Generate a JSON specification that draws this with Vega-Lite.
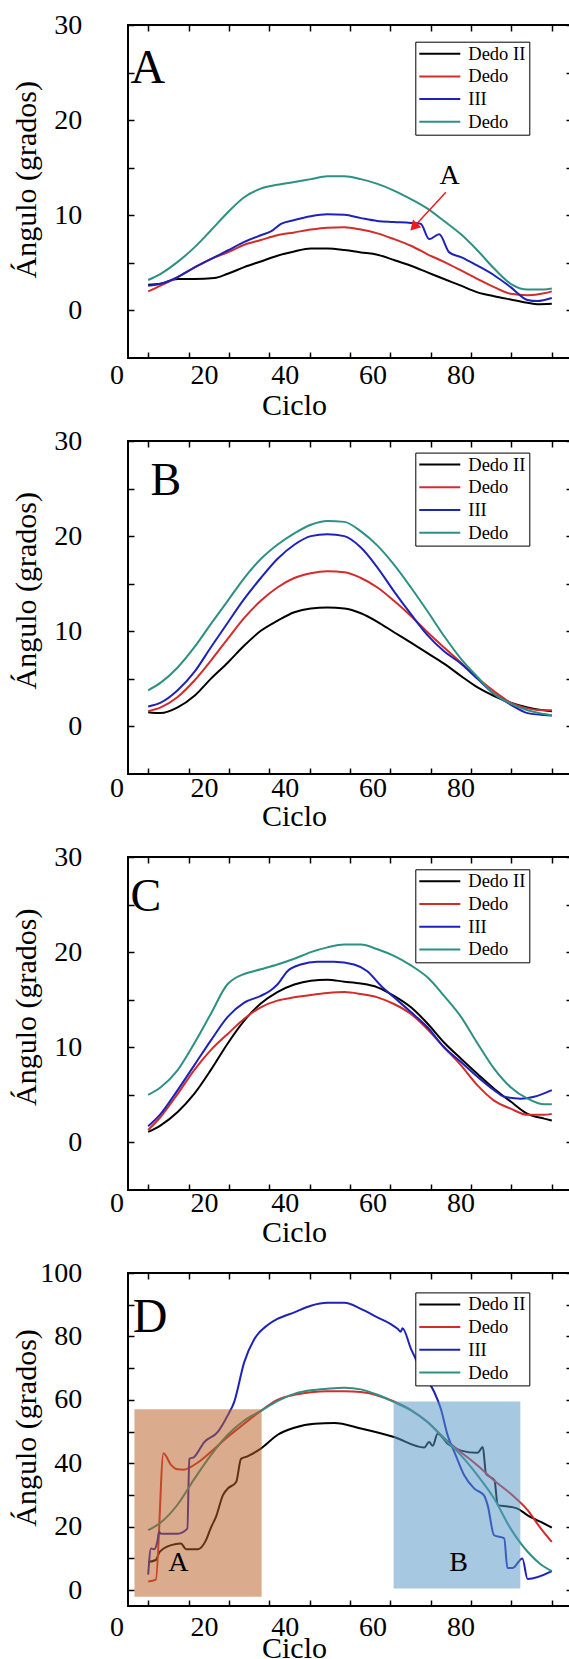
{
"$schema": "https://vega.github.io/schema/vega-lite/v6.json",
"background": "white",
"padding": {"left": 10, "top": 10, "right": 0, "bottom": 0},
"config": {
  "font": "Liberation Serif",
  "view": {"stroke": "black", "strokeWidth": 2},
  "style": {"guide-label": {"font": "Liberation Serif", "fill": "black"}, "guide-title": {"font": "Liberation Serif", "fontWeight": "normal", "fill": "black"}},
  "axis": {"labelFont": "Liberation Serif", "titleFont": "Liberation Serif", "labelColor": "black", "titleColor": "black", "tickColor": "black", "tickWidth": 1.5, "tickSize": -6, "grid": false, "domain": false, "labelFlush": false, "labelOverlap": false, "labelBound": false, "labelFontSize": 28, "titleFontSize": 30, "titleFontWeight": "normal"},
  "legend": {"orient": "none", "strokeColor": "black", "fillColor": "white", "padding": 3, "symbolType": "stroke", "symbolSize": 1681, "symbolStrokeWidth": 2, "clipHeight": 18, "rowPadding": 3.7, "labelFontSize": 18.5, "labelFont": "Liberation Serif", "labelColor": "black", "labelOffset": 7}
},
"datasets": {"curves": [
{"panel":"A","serie":"Dedo II","ciclo":0,"angulo":2.7},{"panel":"A","serie":"Dedo II","ciclo":3.1,"angulo":2.8},{"panel":"A","serie":"Dedo II","ciclo":7.3,"angulo":3.3},{"panel":"A","serie":"Dedo II","ciclo":11.4,"angulo":3.3},{"panel":"A","serie":"Dedo II","ciclo":16.4,"angulo":3.4},{"panel":"A","serie":"Dedo II","ciclo":19.7,"angulo":3.85},{"panel":"A","serie":"Dedo II","ciclo":23.8,"angulo":4.55},{"panel":"A","serie":"Dedo II","ciclo":27.9,"angulo":5.15},{"panel":"A","serie":"Dedo II","ciclo":32,"angulo":5.75},{"panel":"A","serie":"Dedo II","ciclo":36.2,"angulo":6.2},{"panel":"A","serie":"Dedo II","ciclo":40.3,"angulo":6.5},{"panel":"A","serie":"Dedo II","ciclo":44.4,"angulo":6.5},{"panel":"A","serie":"Dedo II","ciclo":48.6,"angulo":6.35},{"panel":"A","serie":"Dedo II","ciclo":52.7,"angulo":6.1},{"panel":"A","serie":"Dedo II","ciclo":56.8,"angulo":5.85},{"panel":"A","serie":"Dedo II","ciclo":60.9,"angulo":5.3},{"panel":"A","serie":"Dedo II","ciclo":65.1,"angulo":4.7},{"panel":"A","serie":"Dedo II","ciclo":69.2,"angulo":4.0},{"panel":"A","serie":"Dedo II","ciclo":73.3,"angulo":3.3},{"panel":"A","serie":"Dedo II","ciclo":77.5,"angulo":2.6},{"panel":"A","serie":"Dedo II","ciclo":81.6,"angulo":1.9},{"panel":"A","serie":"Dedo II","ciclo":85.7,"angulo":1.5},{"panel":"A","serie":"Dedo II","ciclo":89.8,"angulo":1.15},{"panel":"A","serie":"Dedo II","ciclo":94,"angulo":0.8},{"panel":"A","serie":"Dedo II","ciclo":96.4,"angulo":0.65},{"panel":"A","serie":"Dedo II","ciclo":100,"angulo":0.7},
{"panel":"A","serie":"Dedo","ciclo":0,"angulo":2.0},{"panel":"A","serie":"Dedo","ciclo":3.1,"angulo":2.6},{"panel":"A","serie":"Dedo","ciclo":7.3,"angulo":3.5},{"panel":"A","serie":"Dedo","ciclo":11.4,"angulo":4.5},{"panel":"A","serie":"Dedo","ciclo":15.5,"angulo":5.4},{"panel":"A","serie":"Dedo","ciclo":19.7,"angulo":6.1},{"panel":"A","serie":"Dedo","ciclo":23.8,"angulo":6.9},{"panel":"A","serie":"Dedo","ciclo":27.9,"angulo":7.4},{"panel":"A","serie":"Dedo","ciclo":32,"angulo":7.9},{"panel":"A","serie":"Dedo","ciclo":36.2,"angulo":8.2},{"panel":"A","serie":"Dedo","ciclo":40.3,"angulo":8.5},{"panel":"A","serie":"Dedo","ciclo":44.4,"angulo":8.7},{"panel":"A","serie":"Dedo","ciclo":48.6,"angulo":8.75},{"panel":"A","serie":"Dedo","ciclo":52.7,"angulo":8.5},{"panel":"A","serie":"Dedo","ciclo":56.8,"angulo":8.1},{"panel":"A","serie":"Dedo","ciclo":60.9,"angulo":7.5},{"panel":"A","serie":"Dedo","ciclo":65.1,"angulo":6.8},{"panel":"A","serie":"Dedo","ciclo":69.2,"angulo":5.9},{"panel":"A","serie":"Dedo","ciclo":73.3,"angulo":5.1},{"panel":"A","serie":"Dedo","ciclo":77.5,"angulo":4.2},{"panel":"A","serie":"Dedo","ciclo":81.6,"angulo":3.3},{"panel":"A","serie":"Dedo","ciclo":85.7,"angulo":2.45},{"panel":"A","serie":"Dedo","ciclo":89.8,"angulo":1.75},{"panel":"A","serie":"Dedo","ciclo":94,"angulo":1.6},{"panel":"A","serie":"Dedo","ciclo":98.1,"angulo":1.8},{"panel":"A","serie":"Dedo","ciclo":100,"angulo":2.0},
{"panel":"A","serie":"III","ciclo":0,"angulo":2.6},{"panel":"A","serie":"III","ciclo":3.1,"angulo":2.8},{"panel":"A","serie":"III","ciclo":7.3,"angulo":3.5},{"panel":"A","serie":"III","ciclo":11.4,"angulo":4.5},{"panel":"A","serie":"III","ciclo":15.5,"angulo":5.4},{"panel":"A","serie":"III","ciclo":19.7,"angulo":6.3},{"panel":"A","serie":"III","ciclo":23.8,"angulo":7.2},{"panel":"A","serie":"III","ciclo":27.9,"angulo":7.9},{"panel":"A","serie":"III","ciclo":30.4,"angulo":8.3},{"panel":"A","serie":"III","ciclo":32.9,"angulo":9.1},{"panel":"A","serie":"III","ciclo":36.2,"angulo":9.5},{"panel":"A","serie":"III","ciclo":40.3,"angulo":9.9},{"panel":"A","serie":"III","ciclo":44.4,"angulo":10.1},{"panel":"A","serie":"III","ciclo":48.6,"angulo":10.05},{"panel":"A","serie":"III","ciclo":52.7,"angulo":9.7},{"panel":"A","serie":"III","ciclo":56.8,"angulo":9.4},{"panel":"A","serie":"III","ciclo":60.9,"angulo":9.3},{"panel":"A","serie":"III","ciclo":65.1,"angulo":9.2},{"panel":"A","serie":"III","ciclo":67.5,"angulo":9.1},{"panel":"A","serie":"III","ciclo":69.6,"angulo":7.5},{"panel":"A","serie":"III","ciclo":72.1,"angulo":8.0},{"panel":"A","serie":"III","ciclo":74.6,"angulo":6.1},{"panel":"A","serie":"III","ciclo":77.5,"angulo":5.6},{"panel":"A","serie":"III","ciclo":81.6,"angulo":4.7},{"panel":"A","serie":"III","ciclo":85.7,"angulo":3.7},{"panel":"A","serie":"III","ciclo":89.8,"angulo":2.45},{"panel":"A","serie":"III","ciclo":94,"angulo":1.1},{"panel":"A","serie":"III","ciclo":96.4,"angulo":0.98},{"panel":"A","serie":"III","ciclo":100,"angulo":1.3},
{"panel":"A","serie":"Dedo (2)","ciclo":0,"angulo":3.2},{"panel":"A","serie":"Dedo (2)","ciclo":3.1,"angulo":3.85},{"panel":"A","serie":"Dedo (2)","ciclo":7.3,"angulo":5.1},{"panel":"A","serie":"Dedo (2)","ciclo":11.4,"angulo":6.6},{"panel":"A","serie":"Dedo (2)","ciclo":15.5,"angulo":8.4},{"panel":"A","serie":"Dedo (2)","ciclo":19.7,"angulo":10.3},{"panel":"A","serie":"Dedo (2)","ciclo":23.8,"angulo":11.9},{"panel":"A","serie":"Dedo (2)","ciclo":27.9,"angulo":12.8},{"panel":"A","serie":"Dedo (2)","ciclo":32,"angulo":13.2},{"panel":"A","serie":"Dedo (2)","ciclo":36.2,"angulo":13.5},{"panel":"A","serie":"Dedo (2)","ciclo":40.3,"angulo":13.8},{"panel":"A","serie":"Dedo (2)","ciclo":44.4,"angulo":14.1},{"panel":"A","serie":"Dedo (2)","ciclo":48.6,"angulo":14.1},{"panel":"A","serie":"Dedo (2)","ciclo":52.7,"angulo":13.8},{"panel":"A","serie":"Dedo (2)","ciclo":56.8,"angulo":13.3},{"panel":"A","serie":"Dedo (2)","ciclo":60.9,"angulo":12.6},{"panel":"A","serie":"Dedo (2)","ciclo":65.1,"angulo":11.7},{"panel":"A","serie":"Dedo (2)","ciclo":69.2,"angulo":10.7},{"panel":"A","serie":"Dedo (2)","ciclo":73.3,"angulo":9.4},{"panel":"A","serie":"Dedo (2)","ciclo":77.5,"angulo":8.0},{"panel":"A","serie":"Dedo (2)","ciclo":81.6,"angulo":6.3},{"panel":"A","serie":"Dedo (2)","ciclo":85.7,"angulo":4.4},{"panel":"A","serie":"Dedo (2)","ciclo":89.8,"angulo":2.8},{"panel":"A","serie":"Dedo (2)","ciclo":94,"angulo":2.2},{"panel":"A","serie":"Dedo (2)","ciclo":98.1,"angulo":2.2},{"panel":"A","serie":"Dedo (2)","ciclo":100,"angulo":2.3},
{"panel":"B","serie":"Dedo II","ciclo":0,"angulo":1.5},{"panel":"B","serie":"Dedo II","ciclo":3.1,"angulo":1.4},{"panel":"B","serie":"Dedo II","ciclo":7.3,"angulo":2.0},{"panel":"B","serie":"Dedo II","ciclo":11.4,"angulo":3.2},{"panel":"B","serie":"Dedo II","ciclo":15.5,"angulo":5.0},{"panel":"B","serie":"Dedo II","ciclo":19.7,"angulo":6.7},{"panel":"B","serie":"Dedo II","ciclo":23.8,"angulo":8.5},{"panel":"B","serie":"Dedo II","ciclo":27.9,"angulo":10.05},{"panel":"B","serie":"Dedo II","ciclo":32,"angulo":11.1},{"panel":"B","serie":"Dedo II","ciclo":36.2,"angulo":12.0},{"panel":"B","serie":"Dedo II","ciclo":40.3,"angulo":12.4},{"panel":"B","serie":"Dedo II","ciclo":44.4,"angulo":12.5},{"panel":"B","serie":"Dedo II","ciclo":48.6,"angulo":12.4},{"panel":"B","serie":"Dedo II","ciclo":52.7,"angulo":11.9},{"panel":"B","serie":"Dedo II","ciclo":56.8,"angulo":11.0},{"panel":"B","serie":"Dedo II","ciclo":60.9,"angulo":9.9},{"panel":"B","serie":"Dedo II","ciclo":65.1,"angulo":8.8},{"panel":"B","serie":"Dedo II","ciclo":69.2,"angulo":7.7},{"panel":"B","serie":"Dedo II","ciclo":73.3,"angulo":6.6},{"panel":"B","serie":"Dedo II","ciclo":77.5,"angulo":5.3},{"panel":"B","serie":"Dedo II","ciclo":81.6,"angulo":4.1},{"panel":"B","serie":"Dedo II","ciclo":85.7,"angulo":3.2},{"panel":"B","serie":"Dedo II","ciclo":89.8,"angulo":2.5},{"panel":"B","serie":"Dedo II","ciclo":94,"angulo":2.0},{"panel":"B","serie":"Dedo II","ciclo":98.1,"angulo":1.7},{"panel":"B","serie":"Dedo II","ciclo":100,"angulo":1.6},
{"panel":"B","serie":"Dedo","ciclo":0,"angulo":1.6},{"panel":"B","serie":"Dedo","ciclo":3.1,"angulo":2.0},{"panel":"B","serie":"Dedo","ciclo":7.3,"angulo":3.1},{"panel":"B","serie":"Dedo","ciclo":11.4,"angulo":4.8},{"panel":"B","serie":"Dedo","ciclo":15.5,"angulo":6.9},{"panel":"B","serie":"Dedo","ciclo":19.7,"angulo":9.2},{"panel":"B","serie":"Dedo","ciclo":23.8,"angulo":11.4},{"panel":"B","serie":"Dedo","ciclo":27.9,"angulo":13.2},{"panel":"B","serie":"Dedo","ciclo":32,"angulo":14.6},{"panel":"B","serie":"Dedo","ciclo":36.2,"angulo":15.6},{"panel":"B","serie":"Dedo","ciclo":40.3,"angulo":16.1},{"panel":"B","serie":"Dedo","ciclo":44.4,"angulo":16.3},{"panel":"B","serie":"Dedo","ciclo":48.6,"angulo":16.2},{"panel":"B","serie":"Dedo","ciclo":52.7,"angulo":15.6},{"panel":"B","serie":"Dedo","ciclo":56.8,"angulo":14.6},{"panel":"B","serie":"Dedo","ciclo":60.9,"angulo":13.2},{"panel":"B","serie":"Dedo","ciclo":65.1,"angulo":11.6},{"panel":"B","serie":"Dedo","ciclo":69.2,"angulo":9.9},{"panel":"B","serie":"Dedo","ciclo":73.3,"angulo":8.3},{"panel":"B","serie":"Dedo","ciclo":77.5,"angulo":6.7},{"panel":"B","serie":"Dedo","ciclo":81.6,"angulo":5.1},{"panel":"B","serie":"Dedo","ciclo":85.7,"angulo":3.7},{"panel":"B","serie":"Dedo","ciclo":89.8,"angulo":2.5},{"panel":"B","serie":"Dedo","ciclo":94,"angulo":1.9},{"panel":"B","serie":"Dedo","ciclo":98.1,"angulo":1.7},{"panel":"B","serie":"Dedo","ciclo":100,"angulo":1.7},
{"panel":"B","serie":"III","ciclo":0,"angulo":2.1},{"panel":"B","serie":"III","ciclo":3.1,"angulo":2.5},{"panel":"B","serie":"III","ciclo":7.3,"angulo":3.8},{"panel":"B","serie":"III","ciclo":11.4,"angulo":5.7},{"panel":"B","serie":"III","ciclo":15.5,"angulo":8.3},{"panel":"B","serie":"III","ciclo":19.7,"angulo":10.9},{"panel":"B","serie":"III","ciclo":23.8,"angulo":13.4},{"panel":"B","serie":"III","ciclo":27.9,"angulo":15.6},{"panel":"B","serie":"III","ciclo":32,"angulo":17.6},{"panel":"B","serie":"III","ciclo":36.2,"angulo":19.1},{"panel":"B","serie":"III","ciclo":40.3,"angulo":20.0},{"panel":"B","serie":"III","ciclo":44.4,"angulo":20.2},{"panel":"B","serie":"III","ciclo":48.6,"angulo":20.0},{"panel":"B","serie":"III","ciclo":52.7,"angulo":18.8},{"panel":"B","serie":"III","ciclo":56.8,"angulo":16.7},{"panel":"B","serie":"III","ciclo":60.9,"angulo":14.2},{"panel":"B","serie":"III","ciclo":65.1,"angulo":11.8},{"panel":"B","serie":"III","ciclo":69.2,"angulo":9.6},{"panel":"B","serie":"III","ciclo":73.3,"angulo":7.9},{"panel":"B","serie":"III","ciclo":77.5,"angulo":6.6},{"panel":"B","serie":"III","ciclo":81.6,"angulo":5.0},{"panel":"B","serie":"III","ciclo":85.7,"angulo":3.4},{"panel":"B","serie":"III","ciclo":89.8,"angulo":2.3},{"panel":"B","serie":"III","ciclo":94,"angulo":1.4},{"panel":"B","serie":"III","ciclo":98.1,"angulo":1.2},{"panel":"B","serie":"III","ciclo":100,"angulo":1.15},
{"panel":"B","serie":"Dedo (2)","ciclo":0,"angulo":3.8},{"panel":"B","serie":"Dedo (2)","ciclo":3.1,"angulo":4.6},{"panel":"B","serie":"Dedo (2)","ciclo":7.3,"angulo":6.2},{"panel":"B","serie":"Dedo (2)","ciclo":11.4,"angulo":8.3},{"panel":"B","serie":"Dedo (2)","ciclo":15.5,"angulo":10.75},{"panel":"B","serie":"Dedo (2)","ciclo":19.7,"angulo":13.2},{"panel":"B","serie":"Dedo (2)","ciclo":23.8,"angulo":15.6},{"panel":"B","serie":"Dedo (2)","ciclo":27.9,"angulo":17.6},{"panel":"B","serie":"Dedo (2)","ciclo":32,"angulo":19.1},{"panel":"B","serie":"Dedo (2)","ciclo":36.2,"angulo":20.3},{"panel":"B","serie":"Dedo (2)","ciclo":40.3,"angulo":21.2},{"panel":"B","serie":"Dedo (2)","ciclo":44.4,"angulo":21.6},{"panel":"B","serie":"Dedo (2)","ciclo":48.6,"angulo":21.5},{"panel":"B","serie":"Dedo (2)","ciclo":52.7,"angulo":20.5},{"panel":"B","serie":"Dedo (2)","ciclo":56.8,"angulo":19.0},{"panel":"B","serie":"Dedo (2)","ciclo":60.9,"angulo":17.0},{"panel":"B","serie":"Dedo (2)","ciclo":65.1,"angulo":14.6},{"panel":"B","serie":"Dedo (2)","ciclo":69.2,"angulo":12.1},{"panel":"B","serie":"Dedo (2)","ciclo":73.3,"angulo":9.5},{"panel":"B","serie":"Dedo (2)","ciclo":77.5,"angulo":7.1},{"panel":"B","serie":"Dedo (2)","ciclo":81.6,"angulo":5.2},{"panel":"B","serie":"Dedo (2)","ciclo":85.7,"angulo":3.4},{"panel":"B","serie":"Dedo (2)","ciclo":89.8,"angulo":2.4},{"panel":"B","serie":"Dedo (2)","ciclo":94,"angulo":1.7},{"panel":"B","serie":"Dedo (2)","ciclo":98.1,"angulo":1.3},{"panel":"B","serie":"Dedo (2)","ciclo":100,"angulo":1.15},
{"panel":"C","serie":"Dedo II","ciclo":0,"angulo":1.1},{"panel":"C","serie":"Dedo II","ciclo":3.1,"angulo":1.8},{"panel":"C","serie":"Dedo II","ciclo":7.3,"angulo":3.2},{"panel":"C","serie":"Dedo II","ciclo":11.4,"angulo":5.1},{"panel":"C","serie":"Dedo II","ciclo":15.5,"angulo":7.6},{"panel":"C","serie":"Dedo II","ciclo":19.7,"angulo":10.4},{"panel":"C","serie":"Dedo II","ciclo":23.8,"angulo":12.8},{"panel":"C","serie":"Dedo II","ciclo":27.9,"angulo":14.6},{"panel":"C","serie":"Dedo II","ciclo":32,"angulo":15.8},{"panel":"C","serie":"Dedo II","ciclo":36.2,"angulo":16.6},{"panel":"C","serie":"Dedo II","ciclo":40.3,"angulo":17.0},{"panel":"C","serie":"Dedo II","ciclo":44.4,"angulo":17.1},{"panel":"C","serie":"Dedo II","ciclo":48.6,"angulo":16.9},{"panel":"C","serie":"Dedo II","ciclo":52.7,"angulo":16.7},{"panel":"C","serie":"Dedo II","ciclo":56.8,"angulo":16.3},{"panel":"C","serie":"Dedo II","ciclo":60.9,"angulo":15.4},{"panel":"C","serie":"Dedo II","ciclo":65.1,"angulo":14.2},{"panel":"C","serie":"Dedo II","ciclo":69.2,"angulo":12.5},{"panel":"C","serie":"Dedo II","ciclo":73.3,"angulo":10.5},{"panel":"C","serie":"Dedo II","ciclo":77.5,"angulo":8.8},{"panel":"C","serie":"Dedo II","ciclo":81.6,"angulo":7.2},{"panel":"C","serie":"Dedo II","ciclo":85.7,"angulo":5.65},{"panel":"C","serie":"Dedo II","ciclo":89.8,"angulo":4.3},{"panel":"C","serie":"Dedo II","ciclo":94,"angulo":3.0},{"panel":"C","serie":"Dedo II","ciclo":98.1,"angulo":2.5},{"panel":"C","serie":"Dedo II","ciclo":100,"angulo":2.3},
{"panel":"C","serie":"Dedo","ciclo":0,"angulo":1.3},{"panel":"C","serie":"Dedo","ciclo":3.1,"angulo":2.7},{"panel":"C","serie":"Dedo","ciclo":7.3,"angulo":5.1},{"panel":"C","serie":"Dedo","ciclo":11.4,"angulo":7.6},{"panel":"C","serie":"Dedo","ciclo":15.5,"angulo":9.7},{"panel":"C","serie":"Dedo","ciclo":19.7,"angulo":11.4},{"panel":"C","serie":"Dedo","ciclo":23.8,"angulo":13.0},{"panel":"C","serie":"Dedo","ciclo":27.9,"angulo":14.2},{"panel":"C","serie":"Dedo","ciclo":32,"angulo":14.9},{"panel":"C","serie":"Dedo","ciclo":36.2,"angulo":15.25},{"panel":"C","serie":"Dedo","ciclo":40.3,"angulo":15.5},{"panel":"C","serie":"Dedo","ciclo":44.4,"angulo":15.7},{"panel":"C","serie":"Dedo","ciclo":48.6,"angulo":15.8},{"panel":"C","serie":"Dedo","ciclo":52.7,"angulo":15.6},{"panel":"C","serie":"Dedo","ciclo":56.8,"angulo":15.25},{"panel":"C","serie":"Dedo","ciclo":60.9,"angulo":14.55},{"panel":"C","serie":"Dedo","ciclo":65.1,"angulo":13.5},{"panel":"C","serie":"Dedo","ciclo":69.2,"angulo":11.9},{"panel":"C","serie":"Dedo","ciclo":73.3,"angulo":10.0},{"panel":"C","serie":"Dedo","ciclo":77.5,"angulo":8.1},{"panel":"C","serie":"Dedo","ciclo":81.6,"angulo":6.0},{"panel":"C","serie":"Dedo","ciclo":85.7,"angulo":4.4},{"panel":"C","serie":"Dedo","ciclo":89.8,"angulo":3.55},{"panel":"C","serie":"Dedo","ciclo":94,"angulo":2.9},{"panel":"C","serie":"Dedo","ciclo":98.1,"angulo":2.9},{"panel":"C","serie":"Dedo","ciclo":100,"angulo":3.0},
{"panel":"C","serie":"III","ciclo":0,"angulo":1.7},{"panel":"C","serie":"III","ciclo":3.1,"angulo":3.0},{"panel":"C","serie":"III","ciclo":7.3,"angulo":5.5},{"panel":"C","serie":"III","ciclo":11.4,"angulo":8.1},{"panel":"C","serie":"III","ciclo":15.5,"angulo":10.7},{"panel":"C","serie":"III","ciclo":19.7,"angulo":13.2},{"panel":"C","serie":"III","ciclo":23.8,"angulo":14.7},{"panel":"C","serie":"III","ciclo":27.9,"angulo":15.4},{"panel":"C","serie":"III","ciclo":30.4,"angulo":16.0},{"panel":"C","serie":"III","ciclo":32,"angulo":16.6},{"panel":"C","serie":"III","ciclo":34.5,"angulo":18.0},{"panel":"C","serie":"III","ciclo":37.8,"angulo":18.7},{"panel":"C","serie":"III","ciclo":41.9,"angulo":19.0},{"panel":"C","serie":"III","ciclo":46.1,"angulo":19.0},{"panel":"C","serie":"III","ciclo":51,"angulo":18.7},{"panel":"C","serie":"III","ciclo":54.3,"angulo":18.0},{"panel":"C","serie":"III","ciclo":57.6,"angulo":16.5},{"panel":"C","serie":"III","ciclo":60.9,"angulo":15.25},{"panel":"C","serie":"III","ciclo":65.1,"angulo":13.7},{"panel":"C","serie":"III","ciclo":69.2,"angulo":12.1},{"panel":"C","serie":"III","ciclo":73.3,"angulo":10.0},{"panel":"C","serie":"III","ciclo":77.5,"angulo":8.45},{"panel":"C","serie":"III","ciclo":81.6,"angulo":6.9},{"panel":"C","serie":"III","ciclo":85.7,"angulo":5.5},{"panel":"C","serie":"III","ciclo":88.2,"angulo":4.8},{"panel":"C","serie":"III","ciclo":92.3,"angulo":4.6},{"panel":"C","serie":"III","ciclo":95.6,"angulo":4.8},{"panel":"C","serie":"III","ciclo":100,"angulo":5.5},
{"panel":"C","serie":"Dedo (2)","ciclo":0,"angulo":5.0},{"panel":"C","serie":"Dedo (2)","ciclo":3.1,"angulo":5.8},{"panel":"C","serie":"Dedo (2)","ciclo":7.3,"angulo":7.6},{"panel":"C","serie":"Dedo (2)","ciclo":11.4,"angulo":10.4},{"panel":"C","serie":"Dedo (2)","ciclo":15.5,"angulo":13.5},{"panel":"C","serie":"Dedo (2)","ciclo":19.7,"angulo":16.65},{"panel":"C","serie":"Dedo (2)","ciclo":21.3,"angulo":17.2},{"panel":"C","serie":"Dedo (2)","ciclo":23.8,"angulo":17.7},{"panel":"C","serie":"Dedo (2)","ciclo":27.9,"angulo":18.2},{"panel":"C","serie":"Dedo (2)","ciclo":32,"angulo":18.7},{"panel":"C","serie":"Dedo (2)","ciclo":36.2,"angulo":19.3},{"panel":"C","serie":"Dedo (2)","ciclo":40.3,"angulo":20.0},{"panel":"C","serie":"Dedo (2)","ciclo":44.4,"angulo":20.5},{"panel":"C","serie":"Dedo (2)","ciclo":48.6,"angulo":20.8},{"panel":"C","serie":"Dedo (2)","ciclo":52.7,"angulo":20.8},{"panel":"C","serie":"Dedo (2)","ciclo":56.8,"angulo":20.3},{"panel":"C","serie":"Dedo (2)","ciclo":60.9,"angulo":19.6},{"panel":"C","serie":"Dedo (2)","ciclo":65.1,"angulo":18.6},{"panel":"C","serie":"Dedo (2)","ciclo":69.2,"angulo":17.35},{"panel":"C","serie":"Dedo (2)","ciclo":73.3,"angulo":15.4},{"panel":"C","serie":"Dedo (2)","ciclo":77.5,"angulo":13.2},{"panel":"C","serie":"Dedo (2)","ciclo":81.6,"angulo":10.4},{"panel":"C","serie":"Dedo (2)","ciclo":85.7,"angulo":7.75},{"panel":"C","serie":"Dedo (2)","ciclo":89.8,"angulo":5.8},{"panel":"C","serie":"Dedo (2)","ciclo":94,"angulo":4.6},{"panel":"C","serie":"Dedo (2)","ciclo":98.1,"angulo":4.0},{"panel":"C","serie":"Dedo (2)","ciclo":100,"angulo":4.0},
{"panel":"D","serie":"Dedo II","ciclo":0,"angulo":8.9},{"panel":"D","serie":"Dedo II","ciclo":1.9,"angulo":9.5},{"panel":"D","serie":"Dedo II","ciclo":2.8,"angulo":12.0},{"panel":"D","serie":"Dedo II","ciclo":5.7,"angulo":14.2},{"panel":"D","serie":"Dedo II","ciclo":8.1,"angulo":14.7},{"panel":"D","serie":"Dedo II","ciclo":9.4,"angulo":12.9},{"panel":"D","serie":"Dedo II","ciclo":12.3,"angulo":12.9},{"panel":"D","serie":"Dedo II","ciclo":14.3,"angulo":15.7},{"panel":"D","serie":"Dedo II","ciclo":15.6,"angulo":19.9},{"panel":"D","serie":"Dedo II","ciclo":16.8,"angulo":23.1},{"panel":"D","serie":"Dedo II","ciclo":18.5,"angulo":29.9},{"panel":"D","serie":"Dedo II","ciclo":19.7,"angulo":32.0},{"panel":"D","serie":"Dedo II","ciclo":21.8,"angulo":34.1},{"panel":"D","serie":"Dedo II","ciclo":23.0,"angulo":41.4},{"panel":"D","serie":"Dedo II","ciclo":24.6,"angulo":42.2},{"panel":"D","serie":"Dedo II","ciclo":27.9,"angulo":44.6},{"panel":"D","serie":"Dedo II","ciclo":32.1,"angulo":49.0},{"panel":"D","serie":"Dedo II","ciclo":36.2,"angulo":51.2},{"panel":"D","serie":"Dedo II","ciclo":41.2,"angulo":52.5},{"panel":"D","serie":"Dedo II","ciclo":46.1,"angulo":52.7},{"panel":"D","serie":"Dedo II","ciclo":52.7,"angulo":51.0},{"panel":"D","serie":"Dedo II","ciclo":60.9,"angulo":48.3},{"panel":"D","serie":"Dedo II","ciclo":68.4,"angulo":45.0},{"panel":"D","serie":"Dedo II","ciclo":69.6,"angulo":46.7},{"panel":"D","serie":"Dedo II","ciclo":70.5,"angulo":45.5},{"panel":"D","serie":"Dedo II","ciclo":71.7,"angulo":49.3},{"panel":"D","serie":"Dedo II","ciclo":74.2,"angulo":46.2},{"panel":"D","serie":"Dedo II","ciclo":77.5,"angulo":44.0},{"panel":"D","serie":"Dedo II","ciclo":81.6,"angulo":43.3},{"panel":"D","serie":"Dedo II","ciclo":82.9,"angulo":45.1},{"panel":"D","serie":"Dedo II","ciclo":83.7,"angulo":36.7},{"panel":"D","serie":"Dedo II","ciclo":85.8,"angulo":34.6},{"panel":"D","serie":"Dedo II","ciclo":86.6,"angulo":26.8},{"panel":"D","serie":"Dedo II","ciclo":89.1,"angulo":26.4},{"panel":"D","serie":"Dedo II","ciclo":91.5,"angulo":25.7},{"panel":"D","serie":"Dedo II","ciclo":94,"angulo":23.6},{"panel":"D","serie":"Dedo II","ciclo":97.3,"angulo":21.5},{"panel":"D","serie":"Dedo II","ciclo":100,"angulo":19.7},
{"panel":"D","serie":"Dedo","ciclo":0,"angulo":2.7},{"panel":"D","serie":"Dedo","ciclo":1.9,"angulo":3.3},{"panel":"D","serie":"Dedo","ciclo":3.8,"angulo":43.2},{"panel":"D","serie":"Dedo","ciclo":5.6,"angulo":39.6},{"panel":"D","serie":"Dedo","ciclo":7.3,"angulo":38.1},{"panel":"D","serie":"Dedo","ciclo":8.9,"angulo":38.0},{"panel":"D","serie":"Dedo","ciclo":10.6,"angulo":38.9},{"panel":"D","serie":"Dedo","ciclo":13.0,"angulo":40.9},{"panel":"D","serie":"Dedo","ciclo":16.4,"angulo":44.6},{"panel":"D","serie":"Dedo","ciclo":19.7,"angulo":48.3},{"panel":"D","serie":"Dedo","ciclo":23.8,"angulo":52.5},{"panel":"D","serie":"Dedo","ciclo":27.9,"angulo":56.5},{"panel":"D","serie":"Dedo","ciclo":32,"angulo":60.0},{"panel":"D","serie":"Dedo","ciclo":36.2,"angulo":61.6},{"panel":"D","serie":"Dedo","ciclo":40.3,"angulo":62.4},{"panel":"D","serie":"Dedo","ciclo":44.4,"angulo":62.7},{"panel":"D","serie":"Dedo","ciclo":48.6,"angulo":62.7},{"panel":"D","serie":"Dedo","ciclo":52.7,"angulo":62.5},{"panel":"D","serie":"Dedo","ciclo":56.8,"angulo":61.4},{"panel":"D","serie":"Dedo","ciclo":60.9,"angulo":59.5},{"panel":"D","serie":"Dedo","ciclo":65.1,"angulo":56.8},{"panel":"D","serie":"Dedo","ciclo":69.2,"angulo":53.0},{"panel":"D","serie":"Dedo","ciclo":73.3,"angulo":48.0},{"panel":"D","serie":"Dedo","ciclo":77.5,"angulo":43.5},{"panel":"D","serie":"Dedo","ciclo":81.6,"angulo":39.3},{"panel":"D","serie":"Dedo","ciclo":85.7,"angulo":34.6},{"panel":"D","serie":"Dedo","ciclo":89.8,"angulo":30.4},{"panel":"D","serie":"Dedo","ciclo":94,"angulo":25.2},{"panel":"D","serie":"Dedo","ciclo":97.3,"angulo":19.4},{"panel":"D","serie":"Dedo","ciclo":100,"angulo":15.2},
{"panel":"D","serie":"III","ciclo":0,"angulo":4.9},{"panel":"D","serie":"III","ciclo":0.7,"angulo":13.1},{"panel":"D","serie":"III","ciclo":1.5,"angulo":12.9},{"panel":"D","serie":"III","ciclo":2.3,"angulo":15.5},{"panel":"D","serie":"III","ciclo":2.7,"angulo":18.4},{"panel":"D","serie":"III","ciclo":3.1,"angulo":17.8},{"panel":"D","serie":"III","ciclo":7.3,"angulo":17.8},{"panel":"D","serie":"III","ciclo":9.7,"angulo":19.4},{"panel":"D","serie":"III","ciclo":10.2,"angulo":41.4},{"panel":"D","serie":"III","ciclo":11.4,"angulo":42.0},{"panel":"D","serie":"III","ciclo":13.9,"angulo":46.7},{"panel":"D","serie":"III","ciclo":17.2,"angulo":49.8},{"panel":"D","serie":"III","ciclo":19.7,"angulo":55.1},{"panel":"D","serie":"III","ciclo":21.3,"angulo":59.3},{"panel":"D","serie":"III","ciclo":23.8,"angulo":71.9},{"panel":"D","serie":"III","ciclo":26.3,"angulo":79.2},{"panel":"D","serie":"III","ciclo":29.6,"angulo":83.6},{"panel":"D","serie":"III","ciclo":32,"angulo":85.5},{"panel":"D","serie":"III","ciclo":36.2,"angulo":87.6},{"panel":"D","serie":"III","ciclo":40.3,"angulo":89.7},{"panel":"D","serie":"III","ciclo":44.4,"angulo":90.6},{"panel":"D","serie":"III","ciclo":48.6,"angulo":90.6},{"panel":"D","serie":"III","ciclo":52.7,"angulo":88.7},{"panel":"D","serie":"III","ciclo":56.8,"angulo":86.0},{"panel":"D","serie":"III","ciclo":60.1,"angulo":83.9},{"panel":"D","serie":"III","ciclo":61.8,"angulo":82.4},{"panel":"D","serie":"III","ciclo":62.6,"angulo":81.5},{"panel":"D","serie":"III","ciclo":63.0,"angulo":82.6},{"panel":"D","serie":"III","ciclo":65.1,"angulo":76.1},{"panel":"D","serie":"III","ciclo":68.4,"angulo":67.7},{"panel":"D","serie":"III","ciclo":70.9,"angulo":62.4},{"panel":"D","serie":"III","ciclo":72.5,"angulo":57.2},{"panel":"D","serie":"III","ciclo":74.2,"angulo":48.8},{"panel":"D","serie":"III","ciclo":76.2,"angulo":42.5},{"panel":"D","serie":"III","ciclo":78.3,"angulo":36.2},{"panel":"D","serie":"III","ciclo":80.8,"angulo":32.0},{"panel":"D","serie":"III","ciclo":83.2,"angulo":29.9},{"panel":"D","serie":"III","ciclo":84.1,"angulo":26.8},{"panel":"D","serie":"III","ciclo":85.7,"angulo":17.3},{"panel":"D","serie":"III","ciclo":88.2,"angulo":16.3},{"panel":"D","serie":"III","ciclo":89,"angulo":7.0},{"panel":"D","serie":"III","ciclo":90.3,"angulo":7.0},{"panel":"D","serie":"III","ciclo":92.7,"angulo":10.0},{"panel":"D","serie":"III","ciclo":94,"angulo":3.5},{"panel":"D","serie":"III","ciclo":100,"angulo":6.0},
{"panel":"D","serie":"Dedo (2)","ciclo":0,"angulo":18.9},{"panel":"D","serie":"Dedo (2)","ciclo":3.1,"angulo":21.3},{"panel":"D","serie":"Dedo (2)","ciclo":7.3,"angulo":27.0},{"panel":"D","serie":"Dedo (2)","ciclo":11.4,"angulo":35.0},{"panel":"D","serie":"Dedo (2)","ciclo":15.5,"angulo":42.5},{"panel":"D","serie":"Dedo (2)","ciclo":19.7,"angulo":49.0},{"panel":"D","serie":"Dedo (2)","ciclo":23.8,"angulo":53.5},{"panel":"D","serie":"Dedo (2)","ciclo":27.9,"angulo":56.5},{"panel":"D","serie":"Dedo (2)","ciclo":32,"angulo":59.6},{"panel":"D","serie":"Dedo (2)","ciclo":36.2,"angulo":61.9},{"panel":"D","serie":"Dedo (2)","ciclo":40.3,"angulo":63.0},{"panel":"D","serie":"Dedo (2)","ciclo":44.4,"angulo":63.5},{"panel":"D","serie":"Dedo (2)","ciclo":48.6,"angulo":63.8},{"panel":"D","serie":"Dedo (2)","ciclo":52.7,"angulo":63.3},{"panel":"D","serie":"Dedo (2)","ciclo":56.8,"angulo":61.6},{"panel":"D","serie":"Dedo (2)","ciclo":60.9,"angulo":59.3},{"panel":"D","serie":"Dedo (2)","ciclo":65.1,"angulo":56.7},{"panel":"D","serie":"Dedo (2)","ciclo":69.2,"angulo":53.0},{"panel":"D","serie":"Dedo (2)","ciclo":73.3,"angulo":47.7},{"panel":"D","serie":"Dedo (2)","ciclo":77.5,"angulo":42.5},{"panel":"D","serie":"Dedo (2)","ciclo":81.6,"angulo":36.2},{"panel":"D","serie":"Dedo (2)","ciclo":85.7,"angulo":28.9},{"panel":"D","serie":"Dedo (2)","ciclo":89.8,"angulo":19.4},{"panel":"D","serie":"Dedo (2)","ciclo":94,"angulo":12.1},{"panel":"D","serie":"Dedo (2)","ciclo":97.3,"angulo":8.1},{"panel":"D","serie":"Dedo (2)","ciclo":100,"angulo":6.0}
]},
"spacing": 83,
"bounds": "flush",
"resolve": {"scale": {"color": "independent"}, "legend": {"color": "independent"}},
"vconcat": [
{
  "width": 444, "height": 333,
  "resolve": {"axis": {"x": "independent", "y": "independent"}},
  "layer": [
    {
      "data": {"name": "curves"},
      "transform": [{"filter": "datum.panel == 'A'"}],
      "mark": {"type": "line", "strokeWidth": 2, "interpolate": "monotone"},
      "encoding": {
        "x": {"field": "ciclo", "type": "quantitative", "scale": {"domain": [-5, 105], "nice": false, "zero": false},
          "axis": {"orient": "bottom", "values": [0,10,20,30,40,50,60,70,80,90,100], "labelExpr": "datum.value % 20 == 0 && datum.value < 100 ? datum.label : ''",
            "labelOffset": {"condition": [{"test": "datum.value == 0", "value": -31.7}, {"test": "datum.value == 20", "value": -24.8}, {"test": "datum.value == 40", "value": -25}, {"test": "datum.value == 60", "value": -17.8}], "value": -10.5},
            "labelFont": "Liberation Serif", "titleFont": "Liberation Serif", "titleFontWeight": "normal",
            "labelPadding": 9.6, "title": "Ciclo", "titleX": 166, "titleY": 32.6}},
        "y": {"field": "angulo", "type": "quantitative", "scale": {"domain": [-5, 30], "nice": false, "zero": false},
          "axis": {"orient": "left", "values": [0,5,10,15,20,25,30], "labelExpr": "datum.value % 10 == 0 ? datum.label : ''", "labelFont": "Liberation Serif", "titleFont": "Liberation Serif", "titleFontWeight": "normal", "labelPadding": 52.3, "title": "Ángulo (grados)", "titleX": -86.3, "titleY": 154.3}},
        "color": {"field": "serie", "type": "nominal", "scale": {"domain": ["Dedo II", "Dedo", "III", "Dedo (2)"], "range": ["#000000", "#d42b2b", "#1d22b8", "#2d9084"]},
          "legend": {"title": null, "legendX": 287.3, "legendY": 16.7, "labelExpr": "replace(datum.label, ' (2)', '')"}}
      }
    },
    {
      "data": {"values": [{"anotacion": "flecha"}]},
      "mark": {"type": "rule", "color": "#f01c1c", "strokeWidth": 1.5},
      "encoding": {
        "x": {"datum": 73.75, "type": "quantitative", "axis": null},
        "y": {"datum": 12.41, "type": "quantitative", "axis": null},
        "x2": {"datum": 65.8}, "y2": {"datum": 8.77}
      }
    },
    {
      "data": {"values": [{"anotacion": "punta"}]},
      "mark": {"type": "point", "shape": "triangle-up", "filled": true, "size": 130, "angle": 223, "color": "#f01c1c", "opacity": 1},
      "encoding": {
        "x": {"datum": 65.8, "type": "quantitative", "axis": null},
        "y": {"datum": 8.77, "type": "quantitative", "axis": null}
      }
    },
    {
      "data": {"values": [{"etiqueta": "A"}]},
      "mark": {"type": "text", "font": "Liberation Serif", "fontSize": 28, "align": "center", "baseline": "alphabetic", "color": "black"},
      "encoding": {
        "x": {"datum": 74.7, "type": "quantitative", "axis": null},
        "y": {"datum": 13.3, "type": "quantitative", "axis": null},
        "text": {"field": "etiqueta"}
      }
    },
    {
      "data": {"values": [{"etiqueta": "A"}]},
      "mark": {"type": "text", "font": "Liberation Serif", "fontSize": 48, "align": "left", "baseline": "alphabetic", "color": "black"},
      "encoding": {
        "x": {"datum": -4.4, "type": "quantitative", "axis": {"orient": "top", "values": [0,10,20,30,40,50,60,70,80,90,100], "labels": false, "title": null}},
        "y": {"datum": 23.9, "type": "quantitative", "axis": {"orient": "right", "values": [0,5,10,15,20,25,30], "labels": false, "title": null}},
        "text": {"field": "etiqueta"}
      }
    }
  ]
},
{
  "width": 444, "height": 333,
  "resolve": {"axis": {"x": "independent", "y": "independent"}},
  "layer": [
    {
      "data": {"name": "curves"},
      "transform": [{"filter": "datum.panel == 'B'"}],
      "mark": {"type": "line", "strokeWidth": 2, "interpolate": "monotone"},
      "encoding": {
        "x": {"field": "ciclo", "type": "quantitative", "scale": {"domain": [-5, 105], "nice": false, "zero": false},
          "axis": {"orient": "bottom", "values": [0,10,20,30,40,50,60,70,80,90,100], "labelExpr": "datum.value % 20 == 0 && datum.value < 100 ? datum.label : ''",
            "labelOffset": {"condition": [{"test": "datum.value == 0", "value": -31.7}, {"test": "datum.value == 20", "value": -24.8}, {"test": "datum.value == 40", "value": -25}, {"test": "datum.value == 60", "value": -17.8}], "value": -10.5},
            "labelFont": "Liberation Serif", "titleFont": "Liberation Serif", "titleFontWeight": "normal",
            "labelPadding": 6.4, "title": "Ciclo", "titleX": 166, "titleY": 27}},
        "y": {"field": "angulo", "type": "quantitative", "scale": {"domain": [-5, 30], "nice": false, "zero": false},
          "axis": {"orient": "left", "values": [0,5,10,15,20,25,30], "labelExpr": "datum.value % 10 == 0 ? datum.label : ''", "labelFont": "Liberation Serif", "titleFont": "Liberation Serif", "titleFontWeight": "normal", "labelPadding": 52.3, "title": "Ángulo (grados)", "titleX": -86.3, "titleY": 149.3}},
        "color": {"field": "serie", "type": "nominal", "scale": {"domain": ["Dedo II", "Dedo", "III", "Dedo (2)"], "range": ["#000000", "#d42b2b", "#1d22b8", "#2d9084"]},
          "legend": {"title": null, "legendX": 287.3, "legendY": 11.6, "labelExpr": "replace(datum.label, ' (2)', '')"}}
      }
    },
    {
      "data": {"values": [{"etiqueta": "B"}]},
      "mark": {"type": "text", "font": "Liberation Serif", "fontSize": 46, "align": "left", "baseline": "alphabetic", "color": "black"},
      "encoding": {
        "x": {"datum": 0.6, "type": "quantitative", "axis": {"orient": "top", "values": [0,10,20,30,40,50,60,70,80,90,100], "labels": false, "title": null}},
        "y": {"datum": 24.3, "type": "quantitative", "axis": {"orient": "right", "values": [0,5,10,15,20,25,30], "labels": false, "title": null}},
        "text": {"field": "etiqueta"}
      }
    }
  ]
},
{
  "width": 444, "height": 333,
  "resolve": {"axis": {"x": "independent", "y": "independent"}},
  "layer": [
    {
      "data": {"name": "curves"},
      "transform": [{"filter": "datum.panel == 'C'"}],
      "mark": {"type": "line", "strokeWidth": 2, "interpolate": "monotone"},
      "encoding": {
        "x": {"field": "ciclo", "type": "quantitative", "scale": {"domain": [-5, 105], "nice": false, "zero": false},
          "axis": {"orient": "bottom", "values": [0,10,20,30,40,50,60,70,80,90,100], "labelExpr": "datum.value % 20 == 0 && datum.value < 100 ? datum.label : ''",
            "labelOffset": {"condition": [{"test": "datum.value == 0", "value": -31.7}, {"test": "datum.value == 20", "value": -24.8}, {"test": "datum.value == 40", "value": -25}, {"test": "datum.value == 60", "value": -17.8}], "value": -10.5},
            "labelFont": "Liberation Serif", "titleFont": "Liberation Serif", "titleFontWeight": "normal",
            "labelPadding": 5.4, "title": "Ciclo", "titleX": 166, "titleY": 27.5}},
        "y": {"field": "angulo", "type": "quantitative", "scale": {"domain": [-5, 30], "nice": false, "zero": false},
          "axis": {"orient": "left", "values": [0,5,10,15,20,25,30], "labelExpr": "datum.value % 10 == 0 ? datum.label : ''", "labelFont": "Liberation Serif", "titleFont": "Liberation Serif", "titleFontWeight": "normal", "labelPadding": 52.3, "title": "Ángulo (grados)", "titleX": -86.3, "titleY": 149.8}},
        "color": {"field": "serie", "type": "nominal", "scale": {"domain": ["Dedo II", "Dedo", "III", "Dedo (2)"], "range": ["#000000", "#d42b2b", "#1d22b8", "#2d9084"]},
          "legend": {"title": null, "legendX": 287.3, "legendY": 12.3, "labelExpr": "replace(datum.label, ' (2)', '')"}}
      }
    },
    {
      "data": {"values": [{"etiqueta": "C"}]},
      "mark": {"type": "text", "font": "Liberation Serif", "fontSize": 46, "align": "left", "baseline": "alphabetic", "color": "black"},
      "encoding": {
        "x": {"datum": -4.4, "type": "quantitative", "axis": {"orient": "top", "values": [0,10,20,30,40,50,60,70,80,90,100], "labels": false, "title": null}},
        "y": {"datum": 24.3, "type": "quantitative", "axis": {"orient": "right", "values": [0,5,10,15,20,25,30], "labels": false, "title": null}},
        "text": {"field": "etiqueta"}
      }
    }
  ]
},
{
  "width": 444, "height": 333,
  "resolve": {"axis": {"x": "independent", "y": "independent"}},
  "layer": [
    {
      "data": {"name": "curves"},
      "transform": [{"filter": "datum.panel == 'D'"}],
      "mark": {"type": "line", "strokeWidth": 2, "interpolate": "monotone"},
      "encoding": {
        "x": {"field": "ciclo", "type": "quantitative", "scale": {"domain": [-5, 105], "nice": false, "zero": false},
          "axis": {"orient": "bottom", "values": [0,10,20,30,40,50,60,70,80,90,100], "labelExpr": "datum.value % 20 == 0 && datum.value < 100 ? datum.label : ''",
            "labelOffset": {"condition": [{"test": "datum.value == 0", "value": -31.7}, {"test": "datum.value == 20", "value": -24.8}, {"test": "datum.value == 40", "value": -25}, {"test": "datum.value == 60", "value": -17.8}], "value": -10.5},
            "labelFont": "Liberation Serif", "titleFont": "Liberation Serif", "titleFontWeight": "normal",
            "labelPadding": 13.7, "title": "Ciclo", "titleX": 166, "titleY": 27.5}},
        "y": {"field": "angulo", "type": "quantitative", "scale": {"domain": [-5, 100], "nice": false, "zero": false},
          "axis": {"orient": "left", "values": [0,10,20,30,40,50,60,70,80,90,100], "labelExpr": "datum.value % 20 == 0 ? datum.label : ''", "labelFont": "Liberation Serif", "titleFont": "Liberation Serif", "titleFontWeight": "normal", "labelPadding": 52.3, "title": "Ángulo (grados)", "titleX": -86.3, "titleY": 154.4}},
        "color": {"field": "serie", "type": "nominal", "scale": {"domain": ["Dedo II", "Dedo", "III", "Dedo (2)"], "range": ["#000000", "#d42b2b", "#1d22b8", "#2d9084"]},
          "legend": {"title": null, "legendX": 287.3, "legendY": 19.4, "labelExpr": "replace(datum.label, ' (2)', '')"}}
      }
    },
    {
      "data": {"values": [{"zona": "A", "desde": -3.4, "hasta": 28.1, "minimo": -2.1, "maximo": 57.0}, {"zona": "B", "desde": 60.8, "hasta": 92.2, "minimo": 0.5, "maximo": 59.5}]},
      "mark": {"type": "rect", "opacity": 0.52},
      "encoding": {
        "x": {"field": "desde", "type": "quantitative", "axis": null},
        "x2": {"field": "hasta"},
        "y": {"field": "minimo", "type": "quantitative", "axis": null},
        "y2": {"field": "maximo"},
        "fill": {"field": "zona", "type": "nominal", "scale": {"domain": ["A", "B"], "range": ["#b95d25", "#5595c4"]}, "legend": null}
      }
    },
    {
      "data": {"values": [{"etiqueta": "A"}]},
      "mark": {"type": "text", "font": "Liberation Serif", "fontSize": 28, "align": "center", "baseline": "alphabetic", "color": "black"},
      "encoding": {
        "x": {"datum": 7.5, "type": "quantitative", "axis": null},
        "y": {"datum": 6.0, "type": "quantitative", "axis": null},
        "text": {"field": "etiqueta"}
      }
    },
    {
      "data": {"values": [{"etiqueta": "B"}]},
      "mark": {"type": "text", "font": "Liberation Serif", "fontSize": 28, "align": "center", "baseline": "alphabetic", "color": "black"},
      "encoding": {
        "x": {"datum": 76.9, "type": "quantitative", "axis": null},
        "y": {"datum": 6.0, "type": "quantitative", "axis": null},
        "text": {"field": "etiqueta"}
      }
    },
    {
      "data": {"values": [{"etiqueta": "D"}]},
      "mark": {"type": "text", "font": "Liberation Serif", "fontSize": 48, "align": "left", "baseline": "alphabetic", "color": "black"},
      "encoding": {
        "x": {"datum": -3.8, "type": "quantitative", "axis": {"orient": "top", "values": [0,10,20,30,40,50,60,70,80,90,100], "labels": false, "title": null}},
        "y": {"datum": 81.3, "type": "quantitative", "axis": {"orient": "right", "values": [0,10,20,30,40,50,60,70,80,90,100], "labels": false, "title": null}},
        "text": {"field": "etiqueta"}
      }
    }
  ]
}
]
}
